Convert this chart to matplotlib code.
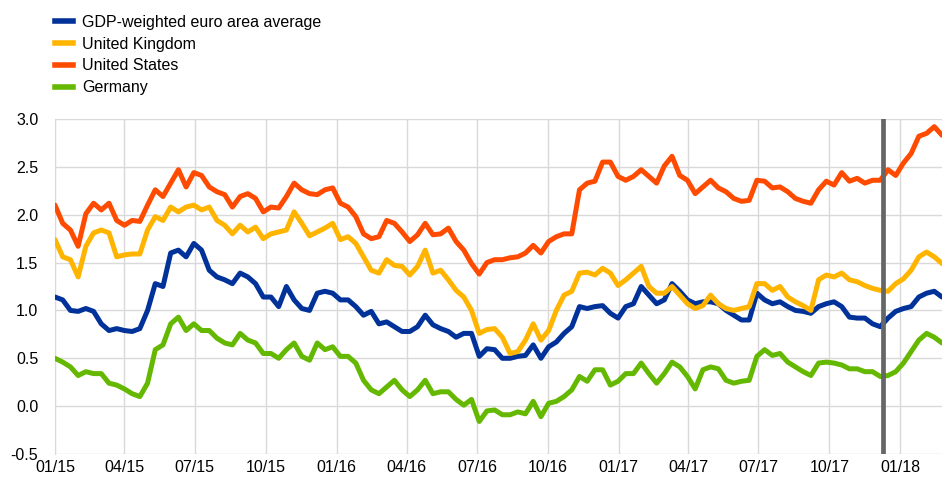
import matplotlib
matplotlib.use("Agg")
import matplotlib.pyplot as plt
import matplotlib.dates as mdates
from matplotlib.lines import Line2D
import pandas as pd

# roughly every 10 days from 01/15
dates = pd.date_range("2015-01-01", periods=116, freq="10D")
event_date = pd.Timestamp("2017-12-09")

ea = [1.14, 1.11, 1.00, 0.99, 1.02, 0.99, 0.86, 0.79, 0.81, 0.79, 0.78, 0.81, 1.00, 1.28, 1.25, 1.60, 1.63, 1.56, 1.70,
      1.63, 1.42, 1.35, 1.32, 1.28, 1.39, 1.35, 1.28, 1.14, 1.14, 1.04, 1.25, 1.11, 1.02, 1.00, 1.18, 1.20, 1.18, 1.11,
      1.11, 1.04, 0.95, 0.99, 0.86, 0.88, 0.83, 0.78, 0.78, 0.83, 0.95, 0.85, 0.81, 0.78, 0.72, 0.76, 0.76, 0.52, 0.60,
      0.59, 0.50, 0.50, 0.52, 0.53, 0.64, 0.50, 0.62, 0.67, 0.76, 0.83, 1.04, 1.02, 1.04, 1.05, 0.97, 0.92, 1.04,
      1.07, 1.25, 1.16, 1.07, 1.11, 1.28, 1.20, 1.11, 1.07, 1.09, 1.09, 1.07, 1.00, 0.95, 0.90, 0.90, 1.18, 1.11, 1.07,
      1.09, 1.04, 1.00, 0.99, 0.97, 1.04, 1.07, 1.09, 1.04, 0.93, 0.92, 0.92, 0.86, 0.83, 0.92, 0.99, 1.02, 1.04, 1.14,
      1.18, 1.20, 1.14]
uk = [1.74, 1.56, 1.53, 1.35, 1.67, 1.81, 1.84, 1.81, 1.56, 1.58, 1.59, 1.59, 1.84, 1.98, 1.94, 2.08, 2.03, 2.08, 2.10,
      2.05, 2.08, 1.94, 1.89, 1.80, 1.89, 1.82, 1.87, 1.75, 1.80, 1.82, 1.84, 2.03, 1.91, 1.78, 1.82, 1.86, 1.91, 1.74,
      1.77, 1.70, 1.56, 1.42, 1.39, 1.53, 1.47, 1.46, 1.37, 1.46, 1.63, 1.39, 1.42, 1.32, 1.21, 1.14, 1.00, 0.76, 0.80,
      0.81, 0.72, 0.55, 0.57, 0.69, 0.86, 0.69, 0.79, 1.00, 1.16, 1.20, 1.39, 1.40, 1.37, 1.44, 1.39, 1.26, 1.32,
      1.39, 1.46, 1.25, 1.18, 1.18, 1.25, 1.16, 1.07, 1.02, 1.05, 1.16, 1.07, 1.02, 1.00, 1.02, 1.04, 1.28, 1.28, 1.21,
      1.25, 1.14, 1.09, 1.05, 1.00, 1.32, 1.37, 1.35, 1.39, 1.32, 1.30, 1.26, 1.23, 1.21, 1.20, 1.28, 1.33, 1.42, 1.56,
      1.61, 1.56, 1.49]
us = [2.10, 1.91, 1.84, 1.67, 2.01, 2.12, 2.05, 2.12, 1.94, 1.89, 1.94, 1.93, 2.10, 2.26, 2.19, 2.33, 2.47, 2.29, 2.44,
      2.41, 2.29, 2.24, 2.21, 2.08, 2.19, 2.22, 2.17, 2.03, 2.08, 2.07, 2.19, 2.33, 2.26, 2.22, 2.21, 2.26, 2.28, 2.12,
      2.08, 1.98, 1.80, 1.75, 1.77, 1.94, 1.91, 1.82, 1.72, 1.79, 1.91, 1.79, 1.80, 1.86, 1.72, 1.63, 1.49, 1.38, 1.50,
      1.53, 1.53, 1.55, 1.56, 1.60, 1.68, 1.60, 1.72, 1.77, 1.80, 1.80, 2.26, 2.33, 2.35, 2.55, 2.55, 2.40, 2.36,
      2.40, 2.47, 2.40, 2.33, 2.51, 2.61, 2.41, 2.36, 2.22, 2.29, 2.36, 2.28, 2.24, 2.17, 2.14, 2.15, 2.36, 2.35, 2.28,
      2.29, 2.24, 2.17, 2.14, 2.12, 2.26, 2.35, 2.31, 2.44, 2.35, 2.38, 2.33, 2.36, 2.36, 2.47, 2.41, 2.54, 2.64, 2.82,
      2.85, 2.92, 2.83]
de = [0.50, 0.46, 0.41, 0.32, 0.36, 0.34, 0.34, 0.24, 0.22, 0.18, 0.13, 0.10, 0.24, 0.59, 0.64, 0.86, 0.93, 0.79, 0.86,
      0.79, 0.79, 0.71, 0.66, 0.64, 0.76, 0.69, 0.66, 0.55, 0.55, 0.50, 0.59, 0.66, 0.52, 0.48, 0.66, 0.59, 0.62, 0.52,
      0.52, 0.45, 0.27, 0.17, 0.13, 0.20, 0.27, 0.17, 0.10, 0.17, 0.27, 0.13, 0.15, 0.15, 0.07, 0.01, 0.07, -0.16, -0.05,
      -0.04, -0.09, -0.09, -0.06, -0.08, 0.05, -0.11, 0.03, 0.05, 0.10, 0.17, 0.31, 0.26, 0.38, 0.38, 0.22, 0.26, 0.34,
      0.34, 0.45, 0.34, 0.24, 0.34, 0.46, 0.41, 0.31, 0.18, 0.38, 0.41, 0.39, 0.27, 0.24, 0.26, 0.27, 0.52, 0.59, 0.53,
      0.55, 0.46, 0.41, 0.36, 0.32, 0.45, 0.46, 0.45, 0.43, 0.39, 0.39, 0.36, 0.36, 0.31, 0.32, 0.36, 0.45, 0.57, 0.69,
      0.76, 0.72, 0.66]

labels = ["GDP-weighted euro area average", "United Kingdom", "United States", "Germany"]
colors = ["#003299", "#FFB400", "#FF4B00", "#65B800"]

plt.rcParams["font.family"] = ["Liberation Sans", "DejaVu Sans"]

fig = plt.figure(figsize=(9.42, 4.8), dpi=100)
ax = fig.add_axes([55 / 942, 26 / 480, 1 - 55 / 942, 335 / 480])

for vals, c in zip([ea, uk, us, de], colors):
    ax.plot(dates, vals, color=c, lw=3.6, solid_joinstyle="round", solid_capstyle="round", zorder=3)

ax.axvline(event_date, color="#666666", lw=3.4, zorder=4)

ax.set_ylim(-0.5, 3.0)
ax.set_yticks([-0.5, 0.0, 0.5, 1.0, 1.5, 2.0, 2.5, 3.0])
ax.yaxis.set_major_formatter(matplotlib.ticker.FormatStrFormatter("%.1f"))
ax.set_xlim(pd.Timestamp("2015-01-01"), pd.Timestamp("2018-02-24"))
ax.xaxis.set_major_locator(mdates.MonthLocator(bymonth=[1, 4, 7, 10]))
ax.xaxis.set_major_formatter(mdates.DateFormatter("%m/%y"))

ax.grid(True, color="#d9d9d9", lw=1.0)
ax.set_axisbelow(True)
for s in ["top", "right", "bottom"]:
    ax.spines[s].set_visible(False)
ax.spines["left"].set_color("#d9d9d9")
ax.tick_params(length=0, labelsize=11.5, colors="#000000")
ax.tick_params(axis="y", pad=12)
ax.tick_params(axis="x", pad=4)

handles = [Line2D([0], [0], color=c, lw=4) for c in colors]
fig.legend(handles, labels, loc="upper left", bbox_to_anchor=(55 / 942, 1 - 15 / 480),
           frameon=False, fontsize=11.5, handlelength=1.1, handletextpad=0.6,
           labelspacing=0.42, borderpad=0, borderaxespad=0)

fig.savefig("out.png", dpi=100)
